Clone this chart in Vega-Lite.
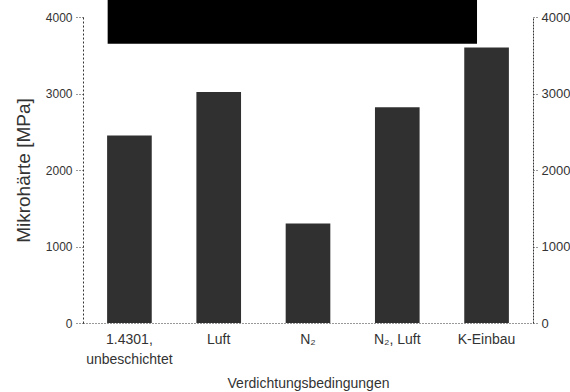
{
  "$schema": "https://vega.github.io/schema/vega-lite/v6.json",
  "autosize": "none",
  "width": 450,
  "height": 306,
  "padding": {"left": 83, "top": 17, "right": 37, "bottom": 69},
  "background": "white",
  "config": {
    "view": {"stroke": null},
    "font": "Liberation Sans",
    "axis": {"grid": false, "labelColor": "#333", "titleColor": "#333", "domainColor": "#333", "tickColor": "#333", "labelFont": "Liberation Sans", "titleFont": "Liberation Sans", "titleFontWeight": "normal"}
  },
  "datasets": {
    "bars": [
      {"cond": "1.4301,|unbeschichtet", "v": 2450},
      {"cond": "Luft", "v": 3020},
      {"cond": "N₂", "v": 1300},
      {"cond": "N₂, Luft", "v": 2820},
      {"cond": "K-Einbau", "v": 3600}
    ],
    "box": [
      {"x0": 0.274, "x1": 4.378, "y0": 3650, "y1": 4250}
    ]
  },
  "layer": [
    {
      "data": {"name": "bars"},
      "mark": {"type": "bar", "color": "#303030"},
      "encoding": {
        "x": {
          "field": "cond", "type": "nominal", "sort": null,
          "scale": {"paddingInner": 0.5, "paddingOuter": 0.27},
          "axis": {
            "title": "Verdichtungsbedingungen", "titleFontSize": 14, "titlePadding": 10,
            "labelExpr": "split(datum.label, '|')", "labelFontSize": 14, "labelAngle": 0,
            "labelPadding": 9, "ticks": false, "domainDash": [1, 2], "labelLineHeight": 20
          }
        },
        "y": {
          "field": "v", "type": "quantitative",
          "scale": {"domain": [0, 4000], "nice": false},
          "axis": {
            "orient": "left", "values": [0, 1000, 2000, 3000, 4000], "format": "d", "title": "Mikrohärte [MPa]",
            "titleFontSize": 19, "titlePadding": 12, "labelFontSize": 12, "labelPadding": 3,
            "tickSize": 8, "tickDash": [1, 2], "domainDash": [2, 2]
          }
        }
      }
    },
    {
      "data": {"name": "bars"},
      "mark": {"type": "bar", "opacity": 0},
      "encoding": {
        "x": {"field": "cond", "type": "nominal", "sort": null, "axis": null},
        "y": {
          "field": "v", "type": "quantitative",
          "scale": {"domain": [0, 4000], "nice": false},
          "axis": {
            "orient": "right", "values": [0, 1000, 2000, 3000, 4000], "format": "d", "title": null,
            "labelFontSize": 13, "labelPadding": 3, "tickSize": 5, "tickDash": [1, 2], "domainDash": [2, 1]
          }
        }
      }
    },
    {
      "data": {"name": "box"},
      "mark": {"type": "rect", "color": "#000000", "clip": false},
      "encoding": {
        "x": {"field": "x0", "type": "quantitative", "scale": {"domain": [0, 5], "nice": false}, "axis": null},
        "x2": {"field": "x1"},
        "y": {"field": "y0", "type": "quantitative", "scale": {"domain": [0, 4000], "nice": false}, "axis": null},
        "y2": {"field": "y1"}
      }
    }
  ],
  "resolve": {"scale": {"x": "independent", "y": "independent"}, "axis": {"y": "independent"}}
}
